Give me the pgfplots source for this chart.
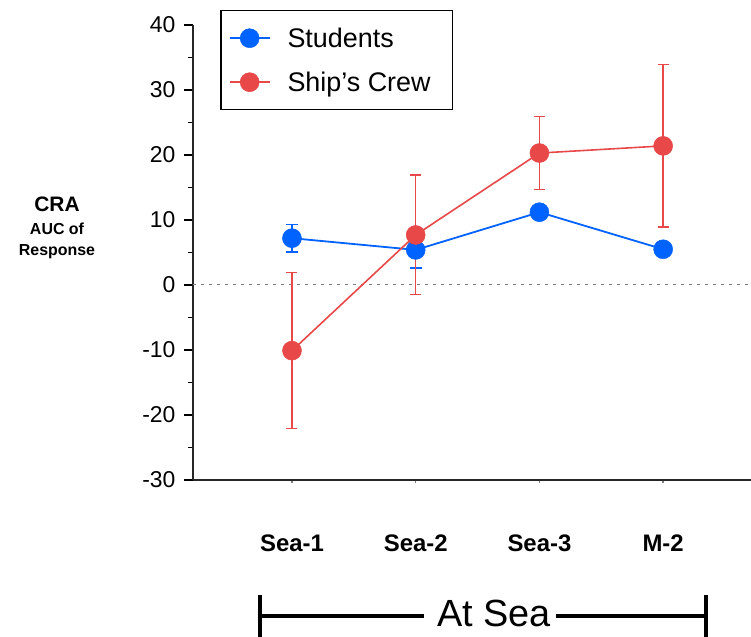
\documentclass[border=0pt]{standalone}
\usepackage{fontspec}
\setmainfont{Liberation Sans}
\usepackage{pgfplots}
\pgfplotsset{compat=1.18}
\definecolor{stublue}{RGB}{0,98,255}
\definecolor{crewred}{RGB}{232,72,72}
\begin{document}
\begin{tikzpicture}
\useasboundingbox (0,0) rectangle (751bp,637bp);
\begin{axis}[
  at={(193bp,157bp)}, anchor=south west,
  scale only axis, width=558bp, height=455bp,
  xmin=-0.80, xmax=3.71, ymin=-30, ymax=40,
  axis x line=bottom, axis y line=left,
  axis line style={-, line width=1.8bp, black!85},
  xtick={0,1,2,3},
  xticklabels={Sea-1,Sea-2,Sea-3,M-2},
  ytick={-30,-20,...,40},
  minor y tick num=1,
  tick align=outside,
  major tick length=9bp, minor tick length=5bp,
  ytick style={line width=1.5bp, black},
  xtick style={line width=1.5bp, gray, /pgfplots/major tick length=3bp},
  /pgf/number format/assume math mode=true,
  yticklabel style={font=\fontsize{23}{27}\selectfont, anchor=east, xshift=-5bp},
  xticklabel style={font=\fontsize{24}{28}\selectfont\bfseries, anchor=base, yshift=-62bp},
  clip=false,
  legend style={at={(0.0484,1.033)}, anchor=north west, draw=black, line width=1.5bp,
    font=\fontsize{27}{32}\selectfont, row sep=19bp, inner xsep=8bp, inner ysep=15bp,
    /tikz/every odd column/.append style={column sep=15bp}},
  legend cell align=left,
  legend image code/.code={\draw[mark repeat=2,mark phase=2,#1] plot coordinates {(0bp,0bp)(20bp,0bp)(40bp,0bp)};},
]
\draw[gray, line width=1bp, dash pattern=on 3bp off 5bp] (axis cs:-0.80,0) -- (axis cs:3.71,0);
\addplot[stublue, line width=1.8bp, mark=*, mark size=9.5bp, mark options={stublue, line width=0.5bp},
  error bars/.cd, y dir=both, y explicit,
  error bar style={line width=1.5bp, stublue},
  error mark options={rotate=90, mark size=6bp, line width=1.5bp, stublue}]
  coordinates {(0,7.2) +- (0,2.1) (1,5.4) +- (0,2.8) (2,11.2) +- (0,1.0) (3,5.5) +- (0,0.8)};
\addlegendentry{Students}
\addplot[crewred, line width=1.6bp, mark=*, mark size=9.5bp, mark options={crewred, line width=0.5bp},
  error bars/.cd, y dir=both, y explicit,
  error bar style={line width=1.5bp, crewred},
  error mark options={rotate=90, mark size=5.5bp, line width=1.5bp, crewred}]
  coordinates {(0,-10.1) +- (0,12.0) (1,7.7) +- (0,9.2) (2,20.3) +- (0,5.6) (3,21.4) +- (0,12.5)};
\addlegendentry{\makebox[155bp][l]{Ship's Crew}}
\end{axis}
\node[font=\fontsize{21}{24}\selectfont\bfseries] at (57bp,433bp) {CRA};
\node[font=\fontsize{16}{19}\selectfont\bfseries] at (57bp,408bp) {AUC of};
\node[font=\fontsize{16}{19}\selectfont\bfseries] at (57bp,385bp) {Response};
\draw[line width=4.5bp] (260bp,42bp) -- (260bp,-5bp);
\draw[line width=4.5bp] (706bp,42bp) -- (706bp,-5bp);
\draw[line width=4.5bp] (260bp,21bp) -- (424bp,21bp);
\draw[line width=4.5bp] (556bp,21bp) -- (706bp,21bp);
\node[font=\fontsize{38}{44}\selectfont, anchor=base] at (494bp,11bp) {At Sea};
\end{tikzpicture}
\end{document}
